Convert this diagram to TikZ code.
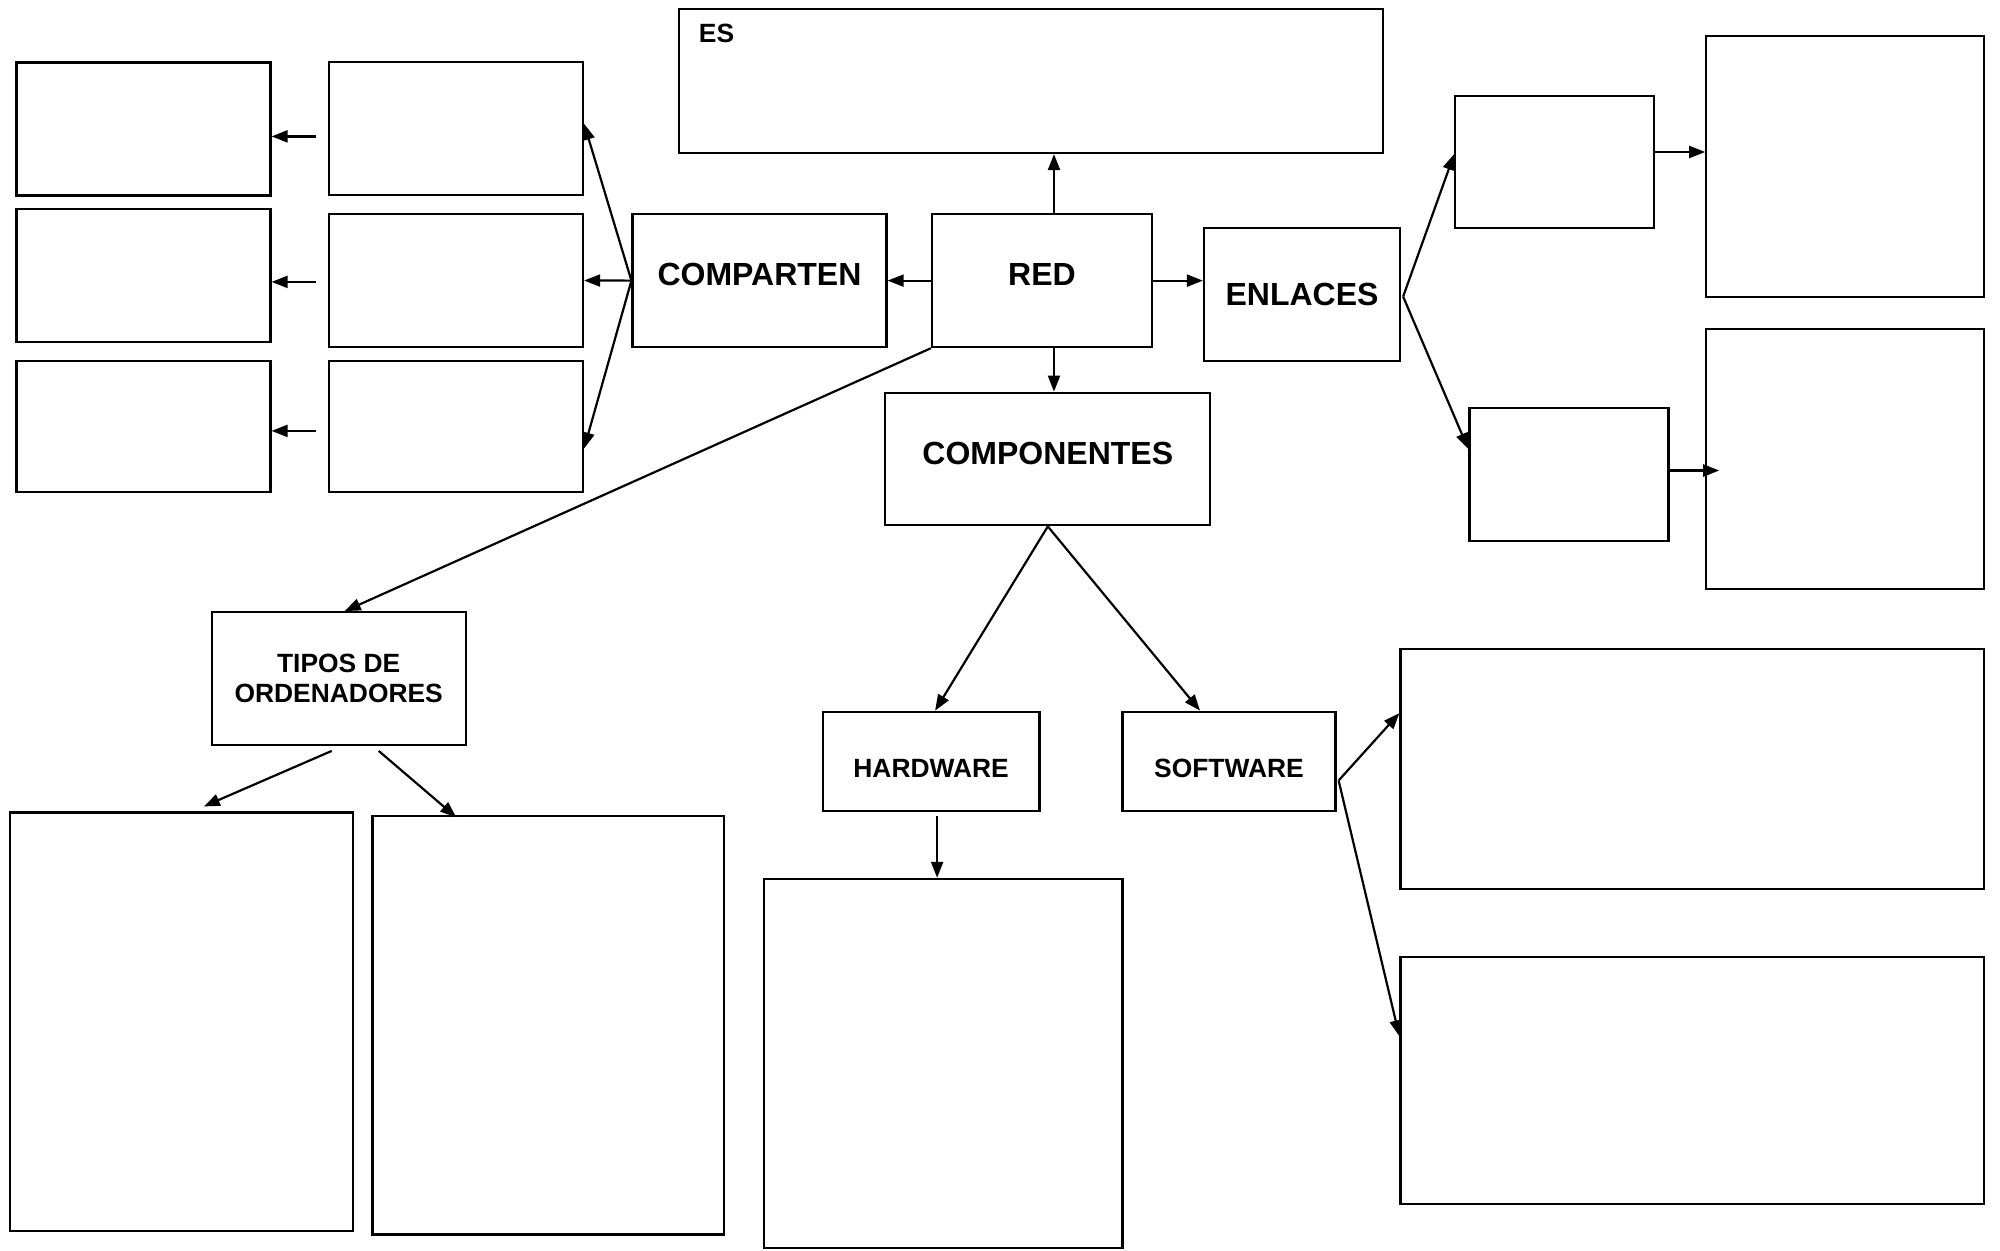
\documentclass[tikz,border=0pt]{standalone}
\usepackage{fontspec}
\setmainfont{Liberation Sans}
\usetikzlibrary{arrows.meta, positioning}

\tikzset{
  caja/.style={draw, line width=1.1pt, inner sep=0pt, align=center},
  grande/.style={font=\bfseries\fontsize{16}{19}\selectfont},
  chica/.style={font=\bfseries\fontsize{13.2}{15.3}\selectfont},
  arriba/.style={text height=11.5pt, text depth=6.4pt},
  abajo/.style={text height=15.9pt, text depth=0pt},
  flecha/.style={->, line width=1.1pt}
}

\begin{document}
\begin{tikzpicture}[x=0.5pt, y=-0.5pt, >={Triangle[length=8pt, width=6pt]}]

      \useasboundingbox (0,0) rectangle (2000,1250);

      % Bloque central
      \node[caja, grande, arriba, minimum width=110pt, minimum height=66.5pt] (red) at (1042,280.6) {RED};
      \node[caja, chica, minimum width=352pt, minimum height=72pt,
            label={[chica, anchor=north west, inner sep=0pt, xshift=10.5pt, yshift=-8pt]north west:ES}] (es) at (1030.6,81) {};

      % Comparten (izquierda)
      \node[caja, grande, arriba, minimum width=127pt, minimum height=66.5pt] (comparten) at (759.5,280.6) {COMPARTEN};
      \node[caja, minimum width=127pt, minimum height=66.5pt] (cpa) at (456,128.8) {};
      \node[caja, minimum width=127pt, minimum height=66.5pt] (cpb) at (456,280.5) {};
      \node[caja, minimum width=127pt, minimum height=65.5pt] (cpc) at (456,426.5) {};
      \node[caja, minimum width=127pt, minimum height=66.5pt] (lda) at (143.5,128.9) {};
      \node[caja, minimum width=127pt, minimum height=66.5pt] (ldb) at (143.5,275.5) {};
      \node[caja, minimum width=127pt, minimum height=65.5pt] (ldc) at (143.5,426.5) {};

      % Enlaces (derecha)
      \node[caja, grande, minimum width=98pt, minimum height=66.5pt] (enlaces) at (1302,294.6) {ENLACES};
      \node[caja, minimum width=99.5pt, minimum height=66.3pt] (ena) at (1554.8,162) {};
      \node[caja, minimum width=139pt, minimum height=130.7pt] (enb) at (1845.3,166.5) {};
      \node[caja, minimum width=99.5pt, minimum height=66.3pt] (enc) at (1568.9,474.5) {};
      \node[caja, minimum width=139pt, minimum height=130pt] (end) at (1845.3,459) {};

      % Componentes
      \node[caja, grande, arriba, minimum width=162.5pt, minimum height=66.3pt] (componentes) at (1047.8,459) {COMPONENTES};
      \node[caja, chica, abajo, minimum width=108.4pt, minimum height=49.8pt] (hardware) at (931.1,761.5) {HARDWARE};
      \node[caja, chica, abajo, minimum width=106.5pt, minimum height=49.8pt] (software) at (1229,761.5) {SOFTWARE};
      \node[caja, minimum width=179.2pt, minimum height=184.5pt] (hwa) at (943.2,1063.4) {};
      \node[caja, minimum width=291.8pt, minimum height=119.9pt] (swa) at (1692.3,769.1) {};
      \node[caja, minimum width=291.8pt, minimum height=123.7pt] (swb) at (1692.3,1080.3) {};

      % Tipos de ordenadores
      \node[caja, chica, minimum width=127pt, minimum height=66.3pt] (tipos) at (338.7,678.5) {TIPOS DE\\ORDENADORES};
      \node[caja, minimum width=171.5pt, minimum height=209.3pt] (tpa) at (181.8,1021.8) {};
      \node[caja, minimum width=175.8pt, minimum height=209.1pt] (tpb) at (548.2,1025.4) {};

      % Flechas desde RED
      \draw[flecha] ([xshift=6pt]red.north) -- ([xshift=6pt]red.north |- es.south);
      \draw[flecha] ([xshift=6pt]red.south) -- ([xshift=6pt]red.south |- componentes.north);
      \draw[flecha] (red.west) -- (comparten.east);
      \draw[flecha] (red.east) -- (red.east -| enlaces.west);
      \draw[flecha] (red.south west) -- ([xshift=3pt]tipos.north);

      % Flechas de COMPARTEN
      \draw[flecha] (comparten.west) -- ([yshift=2.5pt]cpa.east);
      \draw[flecha] (comparten.west) -- (cpb.east);
      \draw[flecha] (comparten.west) -- ([yshift=-11pt]cpc.east);
      \draw[flecha] ([xshift=-6pt,yshift=-3.8pt]cpa.west) -- ([yshift=-3.8pt]cpa.west -| lda.east);
      \draw[flecha] ([xshift=-6pt,yshift=-0.7pt]cpb.west) -- ([yshift=-0.7pt]cpb.west -| ldb.east);
      \draw[flecha] ([xshift=-6pt,yshift=-2.2pt]cpc.west) -- ([yshift=-2.2pt]cpc.west -| ldc.east);

      % Flechas de ENLACES
      \draw[flecha] ([xshift=1pt,yshift=-1pt]enlaces.east) -- ([yshift=4pt]ena.west);
      \draw[flecha] ([xshift=1pt,yshift=-1pt]enlaces.east) -- ([yshift=12.7pt]enc.west);
      \draw[flecha] ([yshift=5pt]ena.east) -- ([yshift=5pt]ena.east -| enb.west);
      \draw[flecha] ([yshift=2pt]enc.east) -- ([xshift=7pt,yshift=2pt]enc.east -| end.west);

      % Flechas de COMPONENTES
      \draw[flecha] (componentes.south) -- ([xshift=2pt]hardware.north);
      \draw[flecha] (componentes.south) -- ([xshift=-14.5pt]software.north);
      \draw[flecha] ([xshift=3pt,yshift=-2pt]hardware.south) -- ([xshift=3pt]hardware.south |- hwa.north);
      \draw[flecha] ([xshift=1pt,yshift=-9.5pt]software.east) -- ([yshift=28pt]swa.west);
      \draw[flecha] ([xshift=1pt,yshift=-9.5pt]software.east) -- ([yshift=22pt]swb.west);

      % Flechas de TIPOS
      \draw[flecha] ([xshift=-3.5pt,yshift=-2.5pt]tipos.south) -- ([xshift=11pt,yshift=2.5pt]tpa.north);
      \draw[flecha] ([xshift=20pt,yshift=-2.5pt]tipos.south) -- ([xshift=-46pt,yshift=-1pt]tpb.north);

\end{tikzpicture}
\end{document}
